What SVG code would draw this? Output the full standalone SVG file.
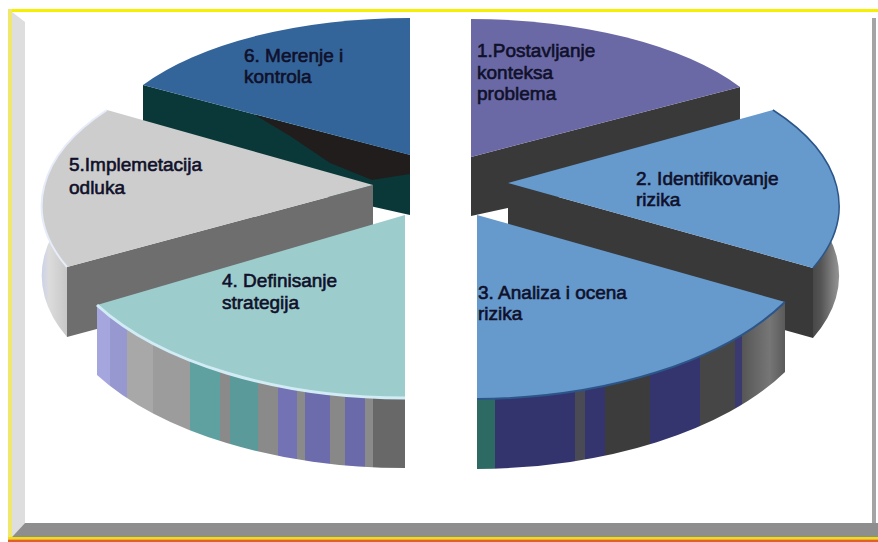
<svg xmlns="http://www.w3.org/2000/svg" width="878" height="542" viewBox="0 0 878 542">
<defs>
<style>
.lbl{font-family:"Liberation Sans",Arial,sans-serif;font-size:19px;fill:#10102a;stroke:#10102a;stroke-width:0.6}
.cutd{fill:#393939}
</style>
<linearGradient id="g4" gradientUnits="userSpaceOnUse" x1="97" y1="0" x2="405" y2="0">
<stop offset="0" stop-color="#a6a6de"/><stop offset="0.042" stop-color="#a6a6de"/>
<stop offset="0.042" stop-color="#9898d0"/><stop offset="0.097" stop-color="#9898d0"/>
<stop offset="0.097" stop-color="#a8a8a8"/><stop offset="0.182" stop-color="#a8a8a8"/>
<stop offset="0.182" stop-color="#9c9c9c"/><stop offset="0.302" stop-color="#9c9c9c"/>
<stop offset="0.302" stop-color="#5fa0a0"/><stop offset="0.399" stop-color="#5fa0a0"/>
<stop offset="0.399" stop-color="#8a8a8a"/><stop offset="0.432" stop-color="#8a8a8a"/>
<stop offset="0.432" stop-color="#5a9a9a"/><stop offset="0.523" stop-color="#5a9a9a"/>
<stop offset="0.523" stop-color="#8a8a8a"/><stop offset="0.588" stop-color="#8a8a8a"/>
<stop offset="0.588" stop-color="#7272b4"/><stop offset="0.649" stop-color="#7272b4"/>
<stop offset="0.649" stop-color="#8a8a8a"/><stop offset="0.675" stop-color="#8a8a8a"/>
<stop offset="0.675" stop-color="#6c6cac"/><stop offset="0.756" stop-color="#6c6cac"/>
<stop offset="0.756" stop-color="#888888"/><stop offset="0.805" stop-color="#888888"/>
<stop offset="0.805" stop-color="#6a6aaa"/><stop offset="0.870" stop-color="#6a6aaa"/>
<stop offset="0.870" stop-color="#8a8a8a"/><stop offset="0.896" stop-color="#8a8a8a"/>
<stop offset="0.896" stop-color="#686868"/><stop offset="1" stop-color="#686868"/>
</linearGradient>
<linearGradient id="g3" gradientUnits="userSpaceOnUse" x1="477" y1="0" x2="785" y2="0">
<stop offset="0" stop-color="#2e6a64"/><stop offset="0.058" stop-color="#2e6a64"/>
<stop offset="0.058" stop-color="#33346e"/><stop offset="0.318" stop-color="#33346e"/>
<stop offset="0.318" stop-color="#4a4a55"/><stop offset="0.35" stop-color="#4a4a55"/>
<stop offset="0.35" stop-color="#34346e"/><stop offset="0.416" stop-color="#34346e"/>
<stop offset="0.416" stop-color="#3c3c3c"/><stop offset="0.562" stop-color="#3c3c3c"/>
<stop offset="0.562" stop-color="#34346e"/><stop offset="0.724" stop-color="#34346e"/>
<stop offset="0.724" stop-color="#464646"/><stop offset="0.838" stop-color="#464646"/>
<stop offset="0.838" stop-color="#3a3a70"/><stop offset="0.86" stop-color="#3a3a70"/>
<stop offset="0.86" stop-color="#565656"/><stop offset="0.95" stop-color="#767676"/><stop offset="1" stop-color="#5a5a5a"/>
</linearGradient>
<linearGradient id="g2" gradientUnits="userSpaceOnUse" x1="800" y1="0" x2="842" y2="0">
<stop offset="0" stop-color="#333333"/><stop offset="0.5" stop-color="#555555"/><stop offset="0.85" stop-color="#8a8a8a"/><stop offset="1" stop-color="#9a9a9a"/>
</linearGradient>
<linearGradient id="g5" gradientUnits="userSpaceOnUse" x1="40" y1="0" x2="70" y2="0">
<stop offset="0" stop-color="#c8d0ec"/><stop offset="0.3" stop-color="#dcdcdc"/><stop offset="1" stop-color="#c4c4c4"/>
</linearGradient>
</defs>
<rect width="878" height="542" fill="#ffffff"/>
<g id="frame">
<rect x="10" y="9" width="868" height="3" fill="#f6f000"/>
<rect x="8" y="9" width="4" height="530" fill="#f0e86c"/>
<polygon points="12,12 25,22 25,523 12,537" fill="#dedede"/>
<polygon points="12,537 25,523 878,523 878,537" fill="#8e8e8e"/>
<rect x="872" y="18" width="4" height="505" fill="#a4a4a4"/>
<rect x="8" y="537" width="870" height="2.5" fill="#f0e000"/>
<rect x="8" y="539.5" width="870" height="2.5" fill="#e0602a"/>
</g>
<g id="slice6">
<polygon points="143,85 410,155 410,215 143,155" fill="#0a3838"/>
<polygon points="255,115 410,155 410,174 372,180 330,163 290,136" fill="#221d1d"/>
<path d="M410,155 L410,18 A310,137 0 0 0 143,85 Z" fill="#34659a"/>
<text class="lbl" x="244" y="62">6. Merenje i</text>
<text class="lbl" x="244" y="83">kontrola</text>
</g>
<g id="slice1">
<polygon points="471,157 740,87 740,157 471,216" class="cutd"/>
<path d="M471,157 L471,19 A313,138 0 0 1 740,87 Z" fill="#6a69a5"/>
<text class="lbl" x="477" y="57">1.Postavljanje</text>
<text class="lbl" x="477" y="79">konteksa</text>
<text class="lbl" x="477" y="100">problema</text>
</g>
<g id="slice5">
<polygon points="67,267 373,185 373,255 67,337" fill="#6e6e6e"/>
<path d="M107,110 A330,160 0 0 0 67,267 L67,337 A330,160 0 0 1 107,180 Z" fill="url(#g5)"/>
<path d="M373,185 L107,110 A330,160 0 0 0 67,267 Z" fill="#cdcdcd"/>
<path d="M107,110 A330,160 0 0 0 67,267" fill="none" stroke="#e6ecfa" stroke-width="2"/>
<text class="lbl" x="69" y="171">5.Implemetacija</text>
<text class="lbl" x="69" y="194">odluka</text>
</g>
<g id="slice2">
<polygon points="508,183 813,268 813,338 508,253" class="cutd"/>
<path d="M773,110 A332,160 0 0 1 813,268 L813,338 A332,160 0 0 0 773,180 Z" fill="url(#g2)"/>
<path d="M508,183 L773,110 A332,160 0 0 1 813,268 Z" fill="#6699cc"/>
<path d="M773,110 A332,160 0 0 1 813,268" fill="none" stroke="#2c568a" stroke-width="1.5"/>
<text class="lbl" x="636" y="185">2. Identifikovanje</text>
<text class="lbl" x="636" y="206">rizika</text>
</g>
<g id="slice4">
<path d="M97,305 A354,183 0 0 0 405,398 L405,468 A354,183 0 0 1 97,375 Z" fill="url(#g4)"/>
<path d="M405,215 L97,305 A354,183 0 0 0 405,398 Z" fill="#9dcccc"/>
<path d="M97,305 A354,183 0 0 0 405,398" fill="none" stroke="#d2ecf6" stroke-width="3"/>
<text class="lbl" x="222" y="287">4. Definisanje</text>
<text class="lbl" x="222" y="309">strategija</text>
</g>
<g id="slice3">
<path d="M785,302 A354,183 0 0 1 477,399 L477,469 A354,183 0 0 0 785,372 Z" fill="url(#g3)"/>
<path d="M477,215 L785,302 A354,183 0 0 1 477,399 Z" fill="#6699cc"/>
<path d="M785,302 A354,183 0 0 1 477,399" fill="none" stroke="#2c568a" stroke-width="2"/>
<text class="lbl" x="478" y="299">3. Analiza i ocena</text>
<text class="lbl" x="478" y="320">rizika</text>
</g>
</svg>
